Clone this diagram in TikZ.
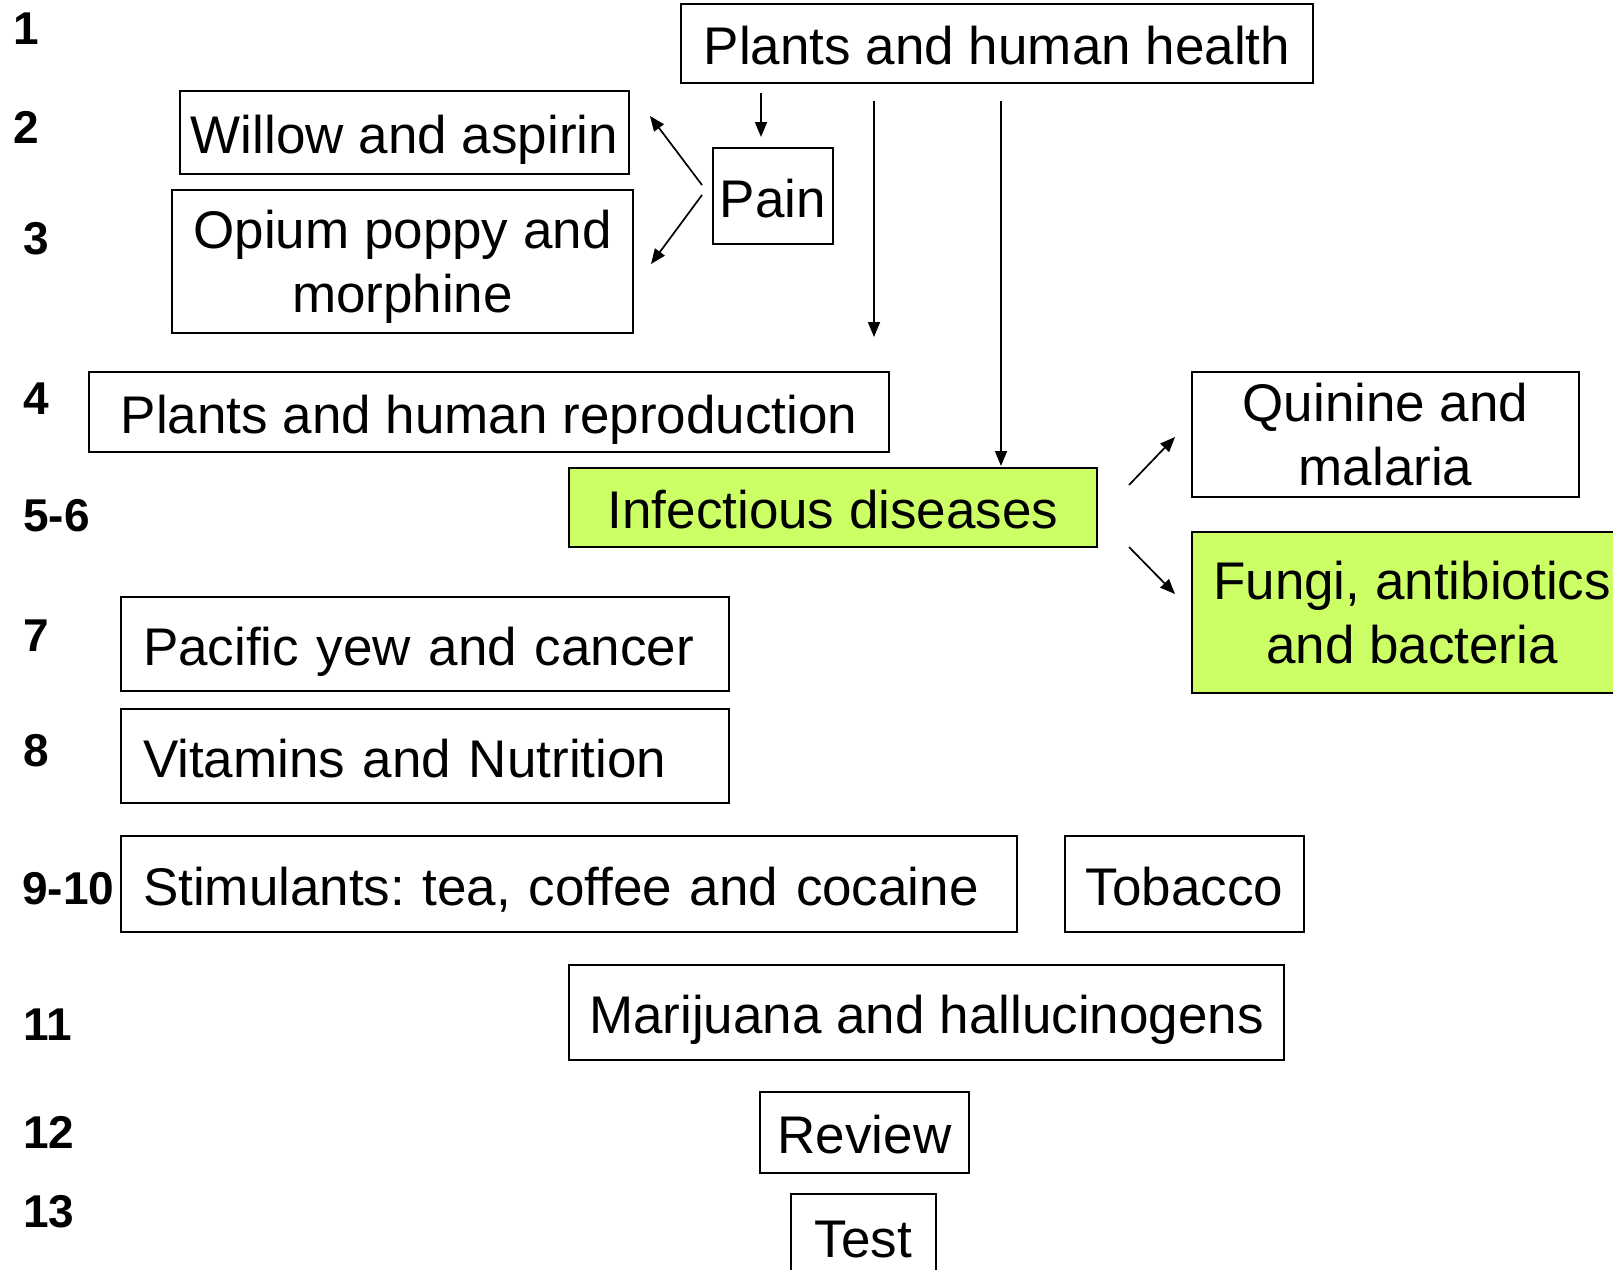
\documentclass[tikz,border=0pt]{standalone}
\usepackage{fontspec}
\setmainfont{Liberation Sans}
\usetikzlibrary{arrows.meta}
\frenchspacing
\definecolor{lime}{RGB}{204,255,102}
\tikzstyle{box} = [draw, line width=2pt, inner sep=0pt, align=center, font=\fontsize{53}{64}\selectfont]
\tikzstyle{boxline} = [box, text height=42pt, text depth=0pt]
\tikzstyle{lefty} = [boxline, align=left, inner xsep=22pt]
\tikzstyle{edge} = [draw, line width=1.7pt, -{Triangle[length=15pt,width=12pt]}]
\tikzstyle{num} = [anchor=west, inner sep=0pt, font=\fontsize{46}{46}\selectfont\bfseries]

\begin{document}
\begin{tikzpicture}[x=1pt, y=-1pt]
    \useasboundingbox (0,0) rectangle (1613,1269);

    % week numbers down the left side
    \foreach \x/\y/\t [count=\i] in {
                            {13/29/1}, {13/127/2}, {23/239/3}, {23/399/4},
                            {23/516/5-6}, {23/636/7}, {23/751/8}, {22/889/9-10},
                            {23/1025/11}, {23/1132/12}, {23/1212/13}}
        \node[num] (week\i) at (\x,\y) {\t};

    % topics
    \node[boxline, minimum width=632pt, minimum height=79pt] (health) at (997,43.5) {Plants and human health};
    \node[boxline, minimum width=120pt, minimum height=96pt] (pain) at (773,196) {Pain};
    \node[boxline, minimum width=449pt, minimum height=83pt] (willow) at (404.5,132.5) {Willow and aspirin};
    \node[box, minimum width=461pt, minimum height=143pt] (opium) at (402.5,261.5) {Opium poppy and\\\raisebox{0pt}[\height][0pt]{morphine}};
    \node[boxline, minimum width=800pt, minimum height=80pt] (repro) at (489,412) {Plants and human reproduction};
    \node[boxline, fill=lime, minimum width=528pt, minimum height=79pt] (infect) at (833,507.5) {Infectious diseases};
    \node[box, minimum width=387pt, minimum height=125pt] (quinine) at (1385.5,434.5) {Quinine and\\malaria};
    \node[box, fill=lime, minimum width=440pt, minimum height=161pt] (fungi) at (1412,612.5) {Fungi, antibiotics\\and bacteria};
    \node[lefty, text width=564pt, minimum height=94pt] (pacific) at (425,644) {Pacific yew and cancer};
    \node[lefty, text width=564pt, minimum height=94pt] (vitamins) at (425,756) {Vitamins and Nutrition};
    \node[lefty, text width=852pt, minimum height=96pt] (stim) at (569,884) {Stimulants: tea, coffee and cocaine};
    \node[boxline, minimum width=239pt, minimum height=96pt] (tobacco) at (1184.5,884) {Tobacco};
    \node[boxline, minimum width=715pt, minimum height=95pt] (marijuana) at (926.5,1012.5) {Marijuana and hallucinogens};
    \node[boxline, minimum width=209pt, minimum height=81pt] (review) at (864.5,1132.5) {Review};
    \node[boxline, minimum width=145pt, minimum height=84pt] (test) at (863.5,1236) {Test};

    % arrows out of the top box
    \path[edge, shorten <=9pt, shorten >=10pt] ([xshift=-12pt]pain.north |- health.south) -- ([xshift=-12pt]pain.north);
    \path[edge, shorten <=17pt, shorten >=34pt] ([xshift=-16pt]repro.north east |- health.south) -- ([xshift=-16pt]repro.north east);
    \path[edge, shorten <=17pt, shorten >=1pt] ([xshift=4pt]health.south) -- ([xshift=4pt]health.south |- infect.north);

    % branches
    \path[edge] ([shift={(-10,-11)}]pain.west) -- ([shift={(20,-16.5)}]willow.east);
    \path[edge] ([shift={(-10,-1)}]pain.west) -- ([shift={(17,2.5)}]opium.east);
    \path[edge] ([shift={(31,-22.5)}]infect.east) -- ([shift={(-16,2.5)}]quinine.west);
    \path[edge] ([shift={(31,39.5)}]infect.east) -- ([shift={(-16,-18.5)}]fungi.west);

\end{tikzpicture}
\end{document}
